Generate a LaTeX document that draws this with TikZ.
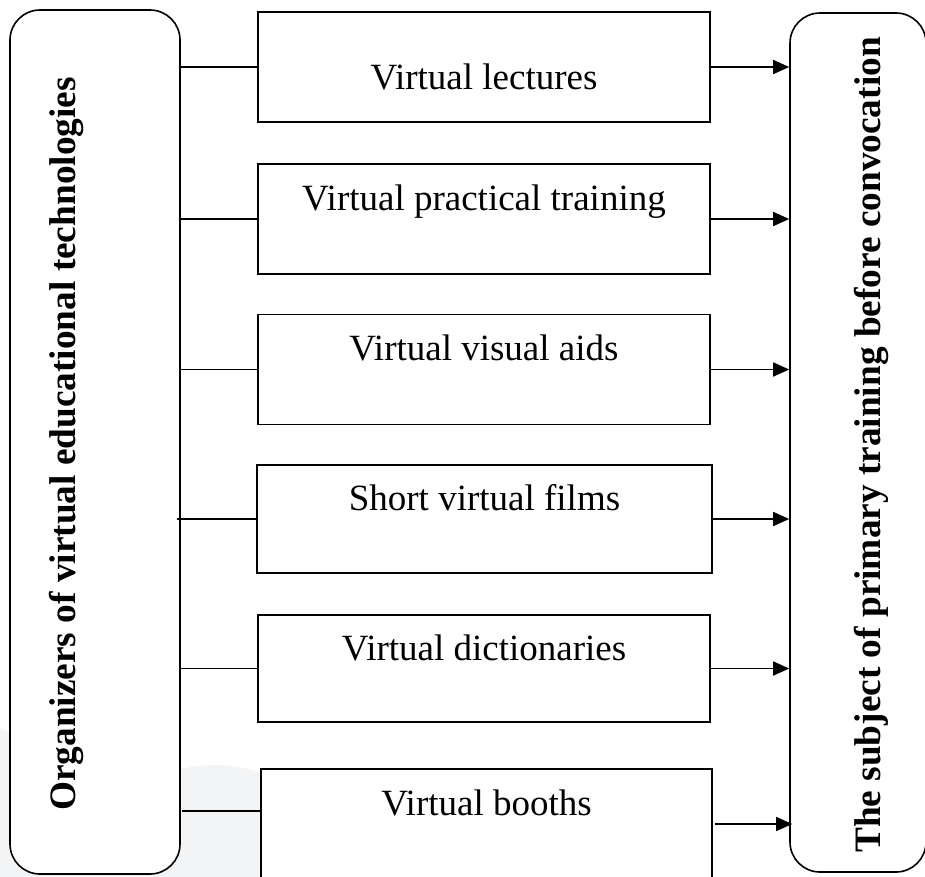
\documentclass[tikz,border=0pt]{standalone}
\usepackage{fontspec}
\setmainfont{Liberation Serif}
\usetikzlibrary{arrows.meta}
\definecolor{wm}{HTML}{F3F4F6}
\tikzset{
  sidebox/.style={draw, line width=1.6pt, rounded corners=30pt, fill=white, inner sep=0pt},
  itembox/.style={draw, line width=1.6pt, fill=white, minimum width=452pt, minimum height=110pt, inner sep=0pt},
  itemtext/.style={anchor=base, inner sep=0pt, font=\fontsize{37}{44}\selectfont},
  sidetext/.style={anchor=base, rotate=90, inner sep=0pt, font=\fontsize{37.3}{44}\selectfont\bfseries},
  link/.style={line width=1.6pt},
  arr/.style={line width=1.6pt, -{Triangle[length=16pt,width=14pt]}}
}
\begin{document}
\begin{tikzpicture}[x=1pt,y=-1pt]
\useasboundingbox (0,0) rectangle (925,876);
% faint watermark
\fill[wm] (215,905) circle (140);
\fill[wm] (-70,860) circle (150);
% side boxes
\node[sidebox, minimum width=170pt, minimum height=864pt] (L) at (95,442) {};
\node[sidebox, minimum width=136pt, minimum height=859pt] (R) at (858,442.5) {};
\node[sidetext] (Lt) at (75,444) {Organizers of virtual educational technologies};
\node[sidetext] (Rt) at (880,445) {The subject of primary training before convocation};
% item boxes
\node[itembox] (b1) at (484,67) {};
\node[itembox] (b2) at (484,219) {};
\node[itembox] (b3) at (484,369.5) {};
\node[itembox, minimum width=455pt, minimum height=108pt] (b4) at (484.5,519) {};
\node[itembox, minimum height=107pt] (b5) at (484,668.5) {};
\node[itembox, minimum width=451pt] (b6) at (486.5,824) {};
\node[itemtext] (t1) at (484,89) {Virtual lectures};
\node[itemtext] (t2) at (484,210) {Virtual practical training};
\node[itemtext] (t3) at (484,360) {Virtual visual aids};
\node[itemtext] (t4) at (484.5,510) {Short virtual films};
\node[itemtext] (t5) at (484,660) {Virtual dictionaries};
\node[itemtext] (t6) at (486.5,815) {Virtual booths};
% connectors
\coordinate (c6) at (182,811);
\draw[link] (L.east |- b1.west) -- (b1.west);
\draw[link] (L.east |- b2.west) -- (b2.west);
\draw[link] (L.east |- b3.west) -- (b3.west);
\draw[link] ([xshift=-4pt]L.east |- b4.west) -- (b4.west);
\draw[link] (L.east |- b5.west) -- (b5.west);
\draw[link] (c6) -- (b6.west |- c6);
\draw[arr] (b1.east) -- (R.west |- b1.east);
\draw[arr] (b2.east) -- (R.west |- b2.east);
\draw[arr] (b3.east) -- (R.west |- b3.east);
\draw[arr] (b4.east) -- (R.west |- b4.east);
\draw[arr] (b5.east) -- (R.west |- b5.east);
\draw[arr] ([xshift=2pt]b6.east) -- ([xshift=3pt]R.west |- b6.east);
\end{tikzpicture}
\end{document}
